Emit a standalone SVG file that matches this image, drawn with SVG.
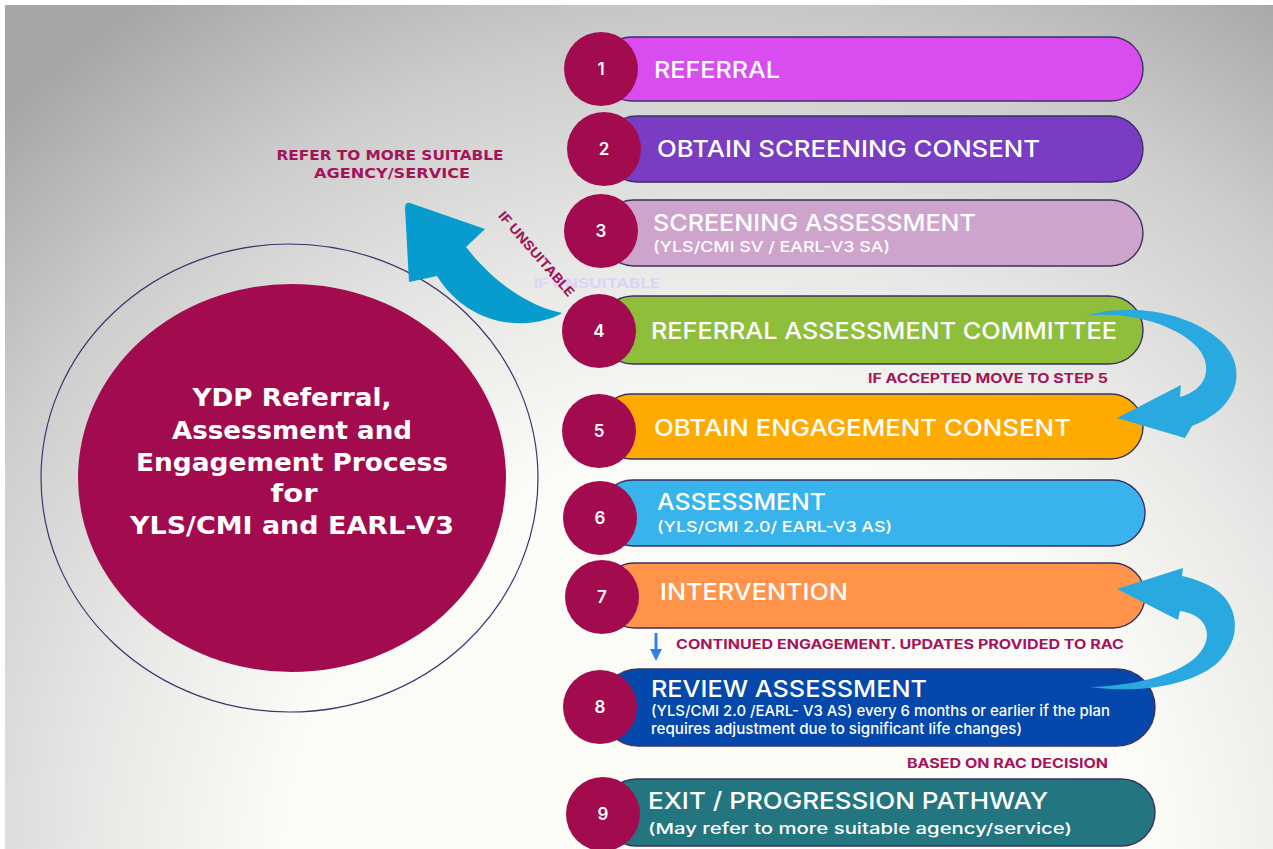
<svg xmlns="http://www.w3.org/2000/svg" width="1273" height="849" viewBox="0 0 1273 849">
  <defs>
    <radialGradient id="bg" gradientUnits="userSpaceOnUse" cx="720" cy="880" r="1050">
      <stop offset="0" stop-color="#fdfdf8"/>
      <stop offset="0.42" stop-color="#fbfbf7"/>
      <stop offset="0.6" stop-color="#e8e8e6"/>
      <stop offset="0.8" stop-color="#cdcdcd"/>
      <stop offset="1" stop-color="#a6a6a6"/>
    </radialGradient>
    <marker id="down" viewBox="0 0 10 10" refX="5" refY="5" markerWidth="4" markerHeight="4" orient="auto">
      <path d="M0,0 L10,5 L0,10 Z" fill="#2f80ed"/>
    </marker>
  </defs>
  <style>
    .pill { stroke: #3a3160; stroke-width: 1.4; }
    .num { fill: #a30b4f; }
    .numtxt { fill: #ffffff; font-family: "Inter", "Liberation Sans", sans-serif; font-weight: 600; font-size: 17px; text-anchor: middle; }
    .main { fill: #ffffff; font-family: "Inter", "Liberation Sans", sans-serif; font-weight: 500; font-size: 23px; }
    .sub { fill: #ffffff; font-family: "Inter", "Liberation Sans", sans-serif; font-weight: 500; font-size: 15px; }
    .note { fill: #a3145a; font-family: "Inter", "Liberation Sans", sans-serif; font-weight: 700; font-size: 13px; }
    .geo { font-family: "DejaVu Sans", "Liberation Sans", sans-serif; font-weight: 700; }
    .title { fill: #ffffff; font-size: 25px; text-anchor: middle; }
    .arrow { fill: #29a9e0; }
  </style>

  <!-- page background -->
  <rect x="0" y="0" width="1273" height="849" fill="#ffffff"/>
  <rect x="5" y="5" width="1268" height="844" fill="url(#bg)"/>

  <!-- central title disc -->
  <g id="title-disc">
    <ellipse cx="289.5" cy="478" rx="248.5" ry="234" fill="none" stroke="#3c3470" stroke-width="1.2"/>
    <ellipse cx="292" cy="478" rx="214" ry="194" fill="#a30b4f"/>
    <g class="geo title">
      <text x="292" y="406" textLength="199" lengthAdjust="spacingAndGlyphs">YDP Referral,</text>
      <text x="292" y="439" textLength="240" lengthAdjust="spacingAndGlyphs">Assessment and</text>
      <text x="292" y="471" textLength="312" lengthAdjust="spacingAndGlyphs">Engagement Process</text>
      <text x="294" y="502" textLength="47" lengthAdjust="spacingAndGlyphs">for</text>
      <text x="292" y="534" textLength="324" lengthAdjust="spacingAndGlyphs">YLS/CMI and EARL-V3</text>
    </g>
  </g>

  <!-- side outcome label -->
  <g id="refer-out">
    <text class="geo" x="390" y="160" fill="#a3145a" font-size="14" text-anchor="middle" textLength="227" lengthAdjust="spacingAndGlyphs">REFER TO MORE SUITABLE</text>
    <text class="geo" x="392" y="178" fill="#a3145a" font-size="14" text-anchor="middle" textLength="156" lengthAdjust="spacingAndGlyphs">AGENCY/SERVICE</text>
  </g>

  <!-- step pills -->
  <g id="step1">
    <rect class="pill" x="600" y="37" width="543" height="64" rx="32" fill="#d94df0"/>
    <circle class="num" cx="601" cy="69" r="37"/>
    <text class="numtxt" x="601" y="75">1</text>
    <text class="main" x="654" y="78" textLength="126" lengthAdjust="spacingAndGlyphs">REFERRAL</text>
  </g>
  <g id="step2">
    <rect class="pill" x="604" y="116" width="539" height="66" rx="33" fill="#7a3cc2"/>
    <circle class="num" cx="604" cy="149" r="37"/>
    <text class="numtxt" x="604" y="155">2</text>
    <text class="main" x="657" y="157" textLength="383" lengthAdjust="spacingAndGlyphs">OBTAIN SCREENING CONSENT</text>
  </g>
  <g id="step3">
    <rect class="pill" x="601" y="200" width="542" height="66" rx="33" fill="#cea4cd"/>
    <circle class="num" cx="601" cy="231" r="37"/>
    <text class="numtxt" x="601" y="237">3</text>
    <text class="main" x="653" y="231" textLength="323" lengthAdjust="spacingAndGlyphs">SCREENING ASSESSMENT</text>
    <text class="sub" x="653" y="252" textLength="237" lengthAdjust="spacingAndGlyphs">(YLS/CMI SV / EARL-V3 SA)</text>
  </g>
  <g id="step4">
    <rect class="pill" x="599" y="296" width="544" height="68" rx="34" fill="#8fbe3a"/>
    <circle class="num" cx="599" cy="331" r="37"/>
    <text class="numtxt" x="599" y="337">4</text>
    <text class="main" x="651" y="339" textLength="466" lengthAdjust="spacingAndGlyphs">REFERRAL ASSESSMENT COMMITTEE</text>
  </g>
  <g id="step5">
    <rect class="pill" x="599" y="394" width="544" height="65" rx="32.5" fill="#ffaa00"/>
    <circle class="num" cx="599" cy="431" r="37"/>
    <text class="numtxt" x="599" y="437">5</text>
    <text class="main" x="654" y="436" textLength="417" lengthAdjust="spacingAndGlyphs">OBTAIN ENGAGEMENT CONSENT</text>
  </g>
  <g id="step6">
    <rect class="pill" x="600" y="480" width="545" height="66" rx="33" fill="#39b3ec"/>
    <circle class="num" cx="600" cy="518" r="37"/>
    <text class="numtxt" x="600" y="524">6</text>
    <text class="main" x="657" y="510" textLength="169" lengthAdjust="spacingAndGlyphs">ASSESSMENT</text>
    <text class="sub" x="657" y="532" textLength="235" lengthAdjust="spacingAndGlyphs">(YLS/CMI 2.0/ EARL-V3 AS)</text>
  </g>
  <g id="step7">
    <rect class="pill" x="602" y="563" width="543" height="65" rx="32.5" fill="#ff944a"/>
    <circle class="num" cx="602" cy="597" r="37"/>
    <text class="numtxt" x="602" y="603">7</text>
    <text class="main" x="660" y="600" textLength="188" lengthAdjust="spacingAndGlyphs">INTERVENTION</text>
  </g>
  <g id="step8">
    <rect class="pill" x="600" y="669" width="555" height="77" rx="38.5" fill="#0348aa"/>
    <circle class="num" cx="600" cy="707" r="37"/>
    <text class="numtxt" x="600" y="713">8</text>
    <text class="main" x="651" y="697" font-size="24" textLength="276" lengthAdjust="spacingAndGlyphs">REVIEW ASSESSMENT</text>
    <text class="sub" x="651" y="716" font-size="12.5" textLength="459" lengthAdjust="spacingAndGlyphs">(YLS/CMI 2.0 /EARL- V3 AS) every 6 months or earlier if the plan</text>
    <text class="sub" x="651" y="734" font-size="12.5" textLength="371" lengthAdjust="spacingAndGlyphs">requires adjustment due to significant life changes)</text>
  </g>
  <g id="step9">
    <rect class="pill" x="603" y="779" width="552" height="67" rx="33.5" fill="#237580"/>
    <circle class="num" cx="603" cy="814" r="37"/>
    <text class="numtxt" x="603" y="820">9</text>
    <text class="main" x="648" y="809" font-size="24" textLength="400" lengthAdjust="spacingAndGlyphs">EXIT / PROGRESSION PATHWAY</text>
    <text class="sub" x="648" y="834" font-size="18" textLength="424" lengthAdjust="spacingAndGlyphs">(May refer to more suitable agency/service)</text>
  </g>

  <!-- connectors -->
  <g id="connectors">
    <!-- step 4 out to another agency -->
    <path fill="#079bce" d="M562,313 C535,308 498,288 466,247 L485,229 L410,203 Q405,202 405,208 L409,282 L437,276 C456,307 490,326 528,323 C545,321 556,317 562,313 Z"/>
    <!-- step 4 accepted, on to step 5 -->
    <path class="arrow" d="M1085,316 C1130,302 1190,312 1222,342 C1248,368 1240,408 1192,426 L1185,438 L1117,418 L1181,385 L1180,397 C1206,390 1214,368 1198,348 C1178,325 1128,310 1085,316 Z"/>
    <!-- review loops back to intervention -->
    <path class="arrow" d="M1090,687 C1140,694 1190,685 1215,665 C1245,640 1240,600 1208,585 C1198,580 1188,577 1182,576 L1183,568 L1117,589 L1178,620 L1180,611 C1210,615 1215,640 1195,658 C1175,676 1130,686 1090,687 Z"/>
    <!-- intervention continues into review -->
    <line x1="656" y1="633" x2="656" y2="655" stroke="#2f80ed" stroke-width="3" marker-end="url(#down)"/>
  </g>

  <!-- connector labels -->
  <g id="labels">
    <text class="note" x="868" y="383" textLength="240" lengthAdjust="spacingAndGlyphs">IF ACCEPTED MOVE TO STEP 5</text>
    <text class="note" x="676" y="649" textLength="448" lengthAdjust="spacingAndGlyphs">CONTINUED ENGAGEMENT. UPDATES PROVIDED TO RAC</text>
    <text class="note" x="907" y="768" textLength="201" lengthAdjust="spacingAndGlyphs">BASED ON RAC DECISION</text>
    <text class="note" x="597" y="288" font-size="16" text-anchor="middle" textLength="127" lengthAdjust="spacingAndGlyphs" style="fill:#dcd3f6">IF UNSUITABLE</text>
    <text class="note" x="0" y="0" font-size="12" text-anchor="middle" textLength="108" lengthAdjust="spacingAndGlyphs" transform="translate(533,257) rotate(49)">IF UNSUITABLE</text>
  </g>
</svg>
